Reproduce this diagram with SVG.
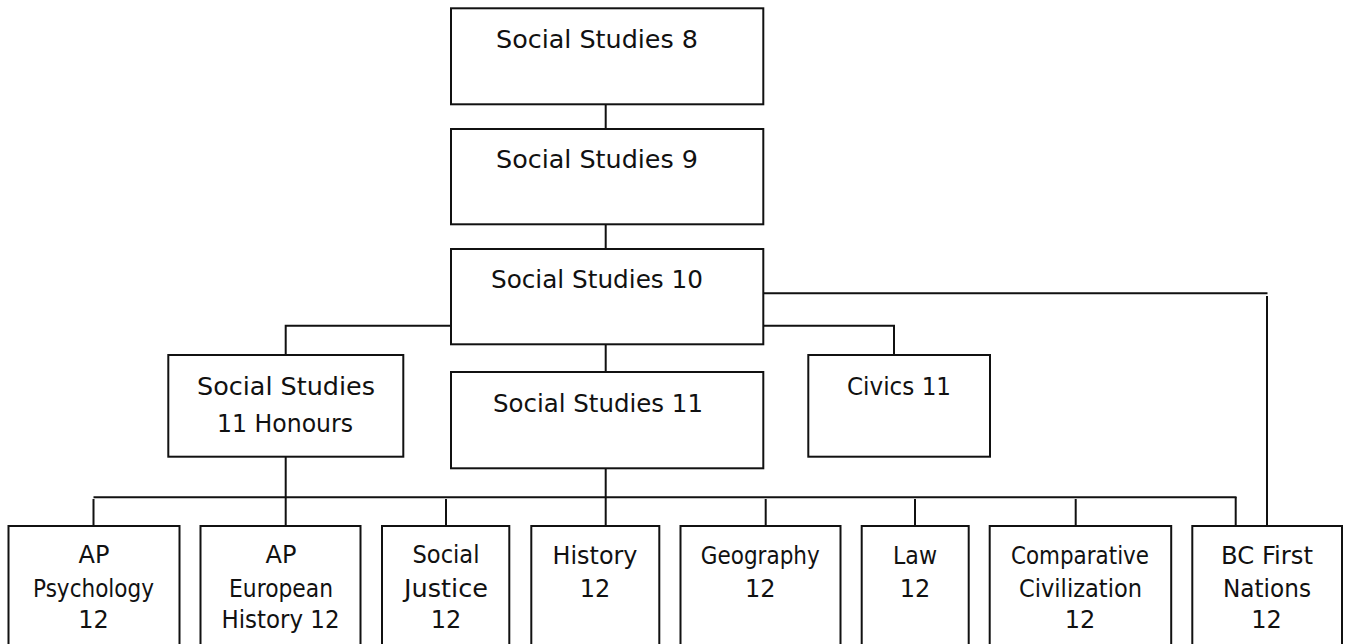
<svg xmlns="http://www.w3.org/2000/svg" width="1346" height="644" viewBox="0 0 1346 644">
<style>
.box{fill:#fff;stroke:#111;stroke-width:2}
.ln{fill:none;stroke:#111;stroke-width:2}
text{font-family:"DejaVu Sans","Liberation Sans",sans-serif;font-size:24px;fill:#111;text-anchor:middle}
</style>
<rect width="1346" height="644" fill="#fff"/>
<g id="connectors">
<path class="ln" d="M605.7 104V129M605.7 224V249M605.7 344V372M605.7 468V526"/>
<path class="ln" d="M451 325.7H285.7V355M285.7 457V526"/>
<path class="ln" d="M763 325.7H894V355"/>
<path class="ln" d="M763 293.3H1267.5M1267 296V526"/>
<path class="ln" d="M93.5 497.3H1236.5"/>
<path class="ln" d="M93.5 499V526M446 499V526M765.7 499V526M915 499V526M1075.7 499V526M1235.7 497V526"/>
</g>
<g id="ss8"><rect class="box" x="451" y="8.3" width="312.3" height="96"/><text x="597" y="48" textLength="202" lengthAdjust="spacingAndGlyphs">Social Studies 8</text></g>
<g id="ss9"><rect class="box" x="451" y="129" width="312.3" height="95.3"/><text x="597" y="168" textLength="202" lengthAdjust="spacingAndGlyphs">Social Studies 9</text></g>
<g id="ss10"><rect class="box" x="451" y="249" width="312.3" height="95.3"/><text x="597" y="288" textLength="212" lengthAdjust="spacingAndGlyphs">Social Studies 10</text></g>
<g id="ss11h"><rect class="box" x="168.3" y="355" width="235" height="101.7"/><text x="286" y="395" textLength="178" lengthAdjust="spacingAndGlyphs">Social Studies</text><text x="285" y="431.7" textLength="136" lengthAdjust="spacingAndGlyphs">11 Honours</text></g>
<g id="ss11"><rect class="box" x="451" y="372" width="312.3" height="96.3"/><text x="598" y="411.7" textLength="210" lengthAdjust="spacingAndGlyphs">Social Studies 11</text></g>
<g id="civics11"><rect class="box" x="808.3" y="355" width="181.7" height="101.7"/><text x="899" y="394.5" textLength="104" lengthAdjust="spacingAndGlyphs">Civics 11</text></g>
<g id="ap-psych"><rect class="box" x="8.5" y="526" width="171" height="140"/><text x="94" y="563">AP</text><text x="93.5" y="596.7" textLength="121" lengthAdjust="spacingAndGlyphs">Psychology</text><text x="93.5" y="628">12</text></g>
<g id="ap-euro"><rect class="box" x="200.5" y="526" width="160" height="140"/><text x="281" y="563">AP</text><text x="281" y="596.7" textLength="104" lengthAdjust="spacingAndGlyphs">European</text><text x="280.5" y="628" textLength="118" lengthAdjust="spacingAndGlyphs">History 12</text></g>
<g id="social-justice"><rect class="box" x="382" y="526" width="127.3" height="140"/><text x="446" y="563.3" textLength="67" lengthAdjust="spacingAndGlyphs">Social</text><text x="446" y="596.7" textLength="84" lengthAdjust="spacingAndGlyphs">Justice</text><text x="446" y="628">12</text></g>
<g id="history12"><rect class="box" x="531.3" y="526" width="128" height="140"/><text x="595" y="564" textLength="85" lengthAdjust="spacingAndGlyphs">History</text><text x="595" y="596.7">12</text></g>
<g id="geography12"><rect class="box" x="680.5" y="526" width="160" height="140"/><text x="760.3" y="564" textLength="119" lengthAdjust="spacingAndGlyphs">Geography</text><text x="760.3" y="596.7">12</text></g>
<g id="law12"><rect class="box" x="861.7" y="526" width="107" height="140"/><text x="915" y="564" textLength="44" lengthAdjust="spacingAndGlyphs">Law</text><text x="915" y="596.7">12</text></g>
<g id="comp-civ"><rect class="box" x="989.7" y="526" width="181.5" height="140"/><text x="1080" y="564" textLength="138" lengthAdjust="spacingAndGlyphs">Comparative</text><text x="1080.5" y="596.7" textLength="123" lengthAdjust="spacingAndGlyphs">Civilization</text><text x="1080" y="628">12</text></g>
<g id="bc-first-nations"><rect class="box" x="1192.3" y="526" width="149.7" height="140"/><text x="1267" y="564" textLength="92" lengthAdjust="spacingAndGlyphs">BC First</text><text x="1267" y="596.7" textLength="88" lengthAdjust="spacingAndGlyphs">Nations</text><text x="1266.5" y="628">12</text></g>
</svg>
